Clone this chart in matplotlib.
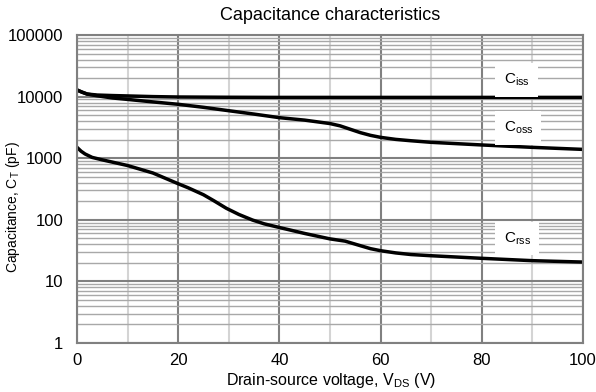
import numpy as np
import matplotlib.pyplot as plt
from matplotlib.ticker import FixedLocator, LogLocator, NullFormatter

plt.rcParams['font.family'] = ['Liberation Sans', 'DejaVu Sans']

# values (V, pF)
v_iss = [0, 1, 2, 4, 7, 10, 15, 20, 30, 40, 60, 80, 100]
c_iss = [12800, 11800, 11000, 10600, 10400, 10250, 10000, 9850, 9750, 9700, 9700, 9700, 9700]

v_oss = [0, 1, 2, 4, 7, 10, 15, 20, 25, 30, 35, 40, 45, 50, 52, 54, 56, 58, 60, 63, 66,
         70, 80, 90, 100]
c_oss = [12800, 11800, 11000, 10300, 9500, 9000, 8200, 7500, 6700, 5900, 5200, 4550, 4150, 3650,
         3350, 2950, 2600, 2350, 2180, 2020, 1920, 1810, 1640, 1500, 1390]

v_rss = [0, 0.8, 1.6, 3, 5, 10, 15, 20, 22, 25, 27, 29.5, 32, 34.7, 37, 40, 45, 50, 53, 56,
         58, 60, 63, 66, 70, 80, 90, 100]
c_rss = [1500, 1300, 1170, 1030, 940, 760, 575, 385, 330, 255, 205, 154, 122, 99, 86, 75, 60,
         49, 45, 38, 34, 31.5, 29, 27.3, 26.1, 23.7, 21.7, 20.6]

labels = ['C$_{\\mathregular{iss}}$', 'C$_{\\mathregular{oss}}$', 'C$_{\\mathregular{rss}}$']
label_y = [18600, 3100, 50]

fig = plt.figure(figsize=(5.96, 3.92), dpi=100)
ax = fig.add_axes([77 / 596, 1 - 343 / 392, 506 / 596, 308 / 392])

ax.set_yscale('log')
ax.set_xlim(0, 100)
ax.set_ylim(1, 100000)

# grid
ax.xaxis.set_major_locator(FixedLocator([0, 20, 40, 60, 80, 100]))
ax.xaxis.set_minor_locator(FixedLocator([10, 30, 50, 70, 90]))
ax.yaxis.set_minor_locator(LogLocator(base=10, subs=np.arange(2, 10), numticks=20))
ax.yaxis.set_minor_formatter(NullFormatter())
ax.set_yticks([1, 10, 100, 1000, 10000, 100000])
ax.set_yticklabels(['1', '10', '100', '1000', '10000', '100000'])
ax.grid(which='major', axis='both', color='#808080', lw=1.5)
ax.grid(which='minor', axis='x', color='#d4d4d4', lw=1.5)
ax.grid(which='minor', axis='y', color='#a8a8a8', lw=1.0)
ax.set_axisbelow(True)
ax.tick_params(which='both', length=0, labelsize=12)
ax.tick_params(axis='y', pad=10)
ax.tick_params(axis='x', pad=7)
for s in ax.spines.values():
    s.set_color('#808080')
    s.set_linewidth(1.5)

ax.plot(v_iss, c_iss, color='black', lw=2.5)
ax.plot(v_oss, c_oss, color='black', lw=2.5)
ax.plot(v_rss, c_rss, color='black', lw=2.5)

for lab, y in zip(labels, label_y):
    ax.text(84.3, y, lab, fontsize=11, ha='left', va='center',
            bbox=dict(facecolor='white', edgecolor='none', pad=6))

fig.text(330 / 596, 1 - 15 / 392, 'Capacitance characteristics', ha='center', va='center', fontsize=13)
fig.text(331 / 596, 1 - 380 / 392, 'Drain-source voltage, V$_{\\mathregular{DS}}$ (V)',
         ha='center', va='center', fontsize=11.5)
fig.text(13 / 596, 1 - 207 / 392, 'Capacitance, C$_{\\mathregular{T}}$ (pF)',
         ha='center', va='center', rotation=90, fontsize=10)

fig.savefig('out.png', dpi=100)
